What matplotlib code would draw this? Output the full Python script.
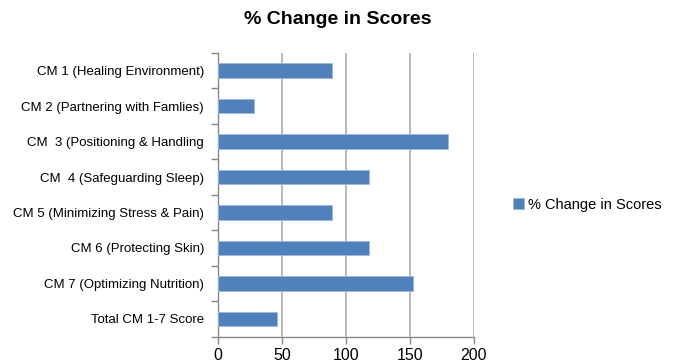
import numpy as np
import matplotlib.pyplot as plt

plt.rcParams['font.family'] = ['Liberation Sans', 'DejaVu Sans']

categories = ["CM 1 (Healing Environment)", "CM 2 (Partnering with Famlies)",
              "CM  3 (Positioning & Handling", "CM  4 (Safeguarding Sleep)",
              "CM 5 (Minimizing Stress & Pain)", "CM 6 (Protecting Skin)",
              "CM 7 (Optimizing Nutrition)", "Total CM 1-7 Score"]
values = [89, 28, 180, 118, 89, 118, 153, 46]
xticks = [0, 50, 100, 150, 200]

fig = plt.figure(figsize=(6.76, 3.62), dpi=100)
ax = fig.add_axes([0.3225, 0.07, 0.378, 0.784])

y = np.arange(len(categories))
ax.barh(y, values, height=0.4, color='#4F81BD', edgecolor='#9DB8DC', linewidth=0.6,
        label='% Change in Scores', zorder=3)
ax.set_ylim(len(categories) - 0.5, -0.5)
ax.set_xlim(0, 200)
ax.set_xticks(xticks)
ax.set_yticks(y)
ax.set_yticklabels(categories, fontsize=9.5)
ax.set_yticks(np.arange(-0.5, len(categories), 1), minor=True)
ax.tick_params(axis='y', which='major', length=0, pad=10)
ax.tick_params(axis='y', which='minor', length=5, color='#888888', width=1)
ax.tick_params(axis='x', length=5, color='#888888', width=1, labelsize=11.5, pad=3)

ax.grid(axis='x', color='#b3b3b3', linewidth=1.3, zorder=0)
for s in ['top', 'right']:
    ax.spines[s].set_visible(False)
for s in ['left', 'bottom']:
    ax.spines[s].set_color('#888888')
    ax.spines[s].set_linewidth(1)

fig.suptitle('% Change in Scores', x=0.5, y=0.97, fontsize=14, fontweight='bold')
fig.legend(loc='center left', bbox_to_anchor=(0.74, 0.435), frameon=False,
           fontsize=10.5, handlelength=0.7, handleheight=0.7, handletextpad=0.3)

fig.savefig('out.png', dpi=100)
